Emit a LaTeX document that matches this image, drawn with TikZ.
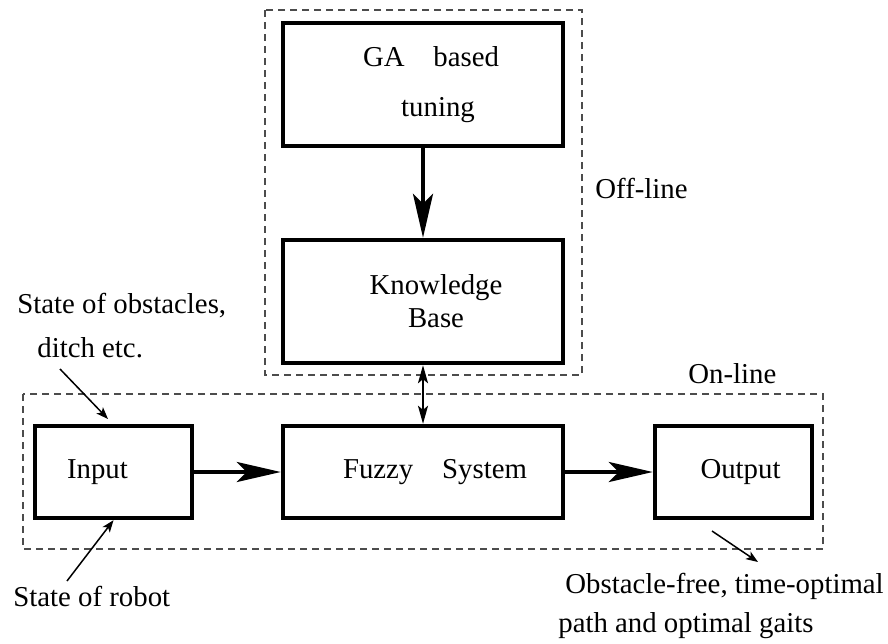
\documentclass[tikz,border=0pt]{standalone}
\usepackage{fontspec}
\setmainfont{Liberation Serif}
\usetikzlibrary{arrows.meta, positioning}
\newcommand{\lblfont}{\fontsize{14.4}{16.5}\selectfont}
\tikzset{
  blk/.style={draw, line width=2.2pt, minimum width=140pt, align=center, font=\lblfont},
  frame/.style={draw=black!70, line width=0.9pt, dash pattern=on 3.5pt off 2.5pt},
  sig/.style={-{Stealth[length=22pt,width=10pt,inset=5pt]}, line width=2pt},
  link/.style={{Stealth[length=9pt,width=5pt,inset=2pt]}-{Stealth[length=9pt,width=5pt,inset=2pt]}, line width=1pt},
  note/.style={-{Stealth[length=6pt,width=4.5pt,inset=1.5pt]}, line width=0.75pt},
  txt/.style={inner sep=0pt, anchor=base west, font=\lblfont},
}

\begin{document}
\begin{tikzpicture}[x=0.5pt, y=-0.5pt]
  \useasboundingbox (0,0) rectangle (888,643);
  % off-line part
  \draw[frame] (265,10) rectangle (582,375);
  \node[blk, minimum height=61.5pt] (ga) at (423,84.5)
    {\hspace*{8pt}GA\quad based\\[8.5pt]\hspace*{15pt}tuning};
  \node[blk, minimum height=61.5pt] (kb) at (423,301.5)
    {\hspace*{13pt}Knowledge\\\hspace*{13pt}Base};
  \node[txt] (off) at (595,198) {Off-line};
  % on-line part
  \draw[frame] (23,394) rectangle (823,549);
  \node[txt] (on) at (688,383) {On-line};
  \node[blk, minimum width=78.5pt, minimum height=46pt] (in) at (113.5,472)
    {Input\hspace*{16pt}};
  \node[blk, minimum height=46pt] (fz) at (423,472)
    {\hspace*{12pt}Fuzzy\quad System};
  \node[blk, minimum width=78.5pt, minimum height=46pt] (out) at (733.5,472)
    {\hspace*{7pt}Output};
  \draw[sig] (ga) -- (kb);
  \draw[sig] (in) -- (fz);
  \draw[sig] (fz) -- (out);
  \draw[link] (kb) -- (fz);
  % notes
  \node[txt] (obs1) at (17,313) {State of obstacles,};
  \node[txt] (obs2) at (37,357) {ditch etc.};
  \node[txt] (rob) at (13,606) {State of robot};
  \node[txt] (res1) at (565,593) {Obstacle-free, time-optimal};
  \node[txt] (res2) at (558,632) {path and optimal gaits};
  \coordinate (obsA) at (60,369);
  \coordinate (obsB) at (108,419);
  \coordinate (robA) at (67,581);
  \coordinate (resA) at (712,531);
  \coordinate (resB) at (758,562);
  \draw[note] (obsA) -- (obsB);
  \draw[note] (robA) -- (in.south);
  \draw[note] (resA) -- (resB);
\end{tikzpicture}
\end{document}
